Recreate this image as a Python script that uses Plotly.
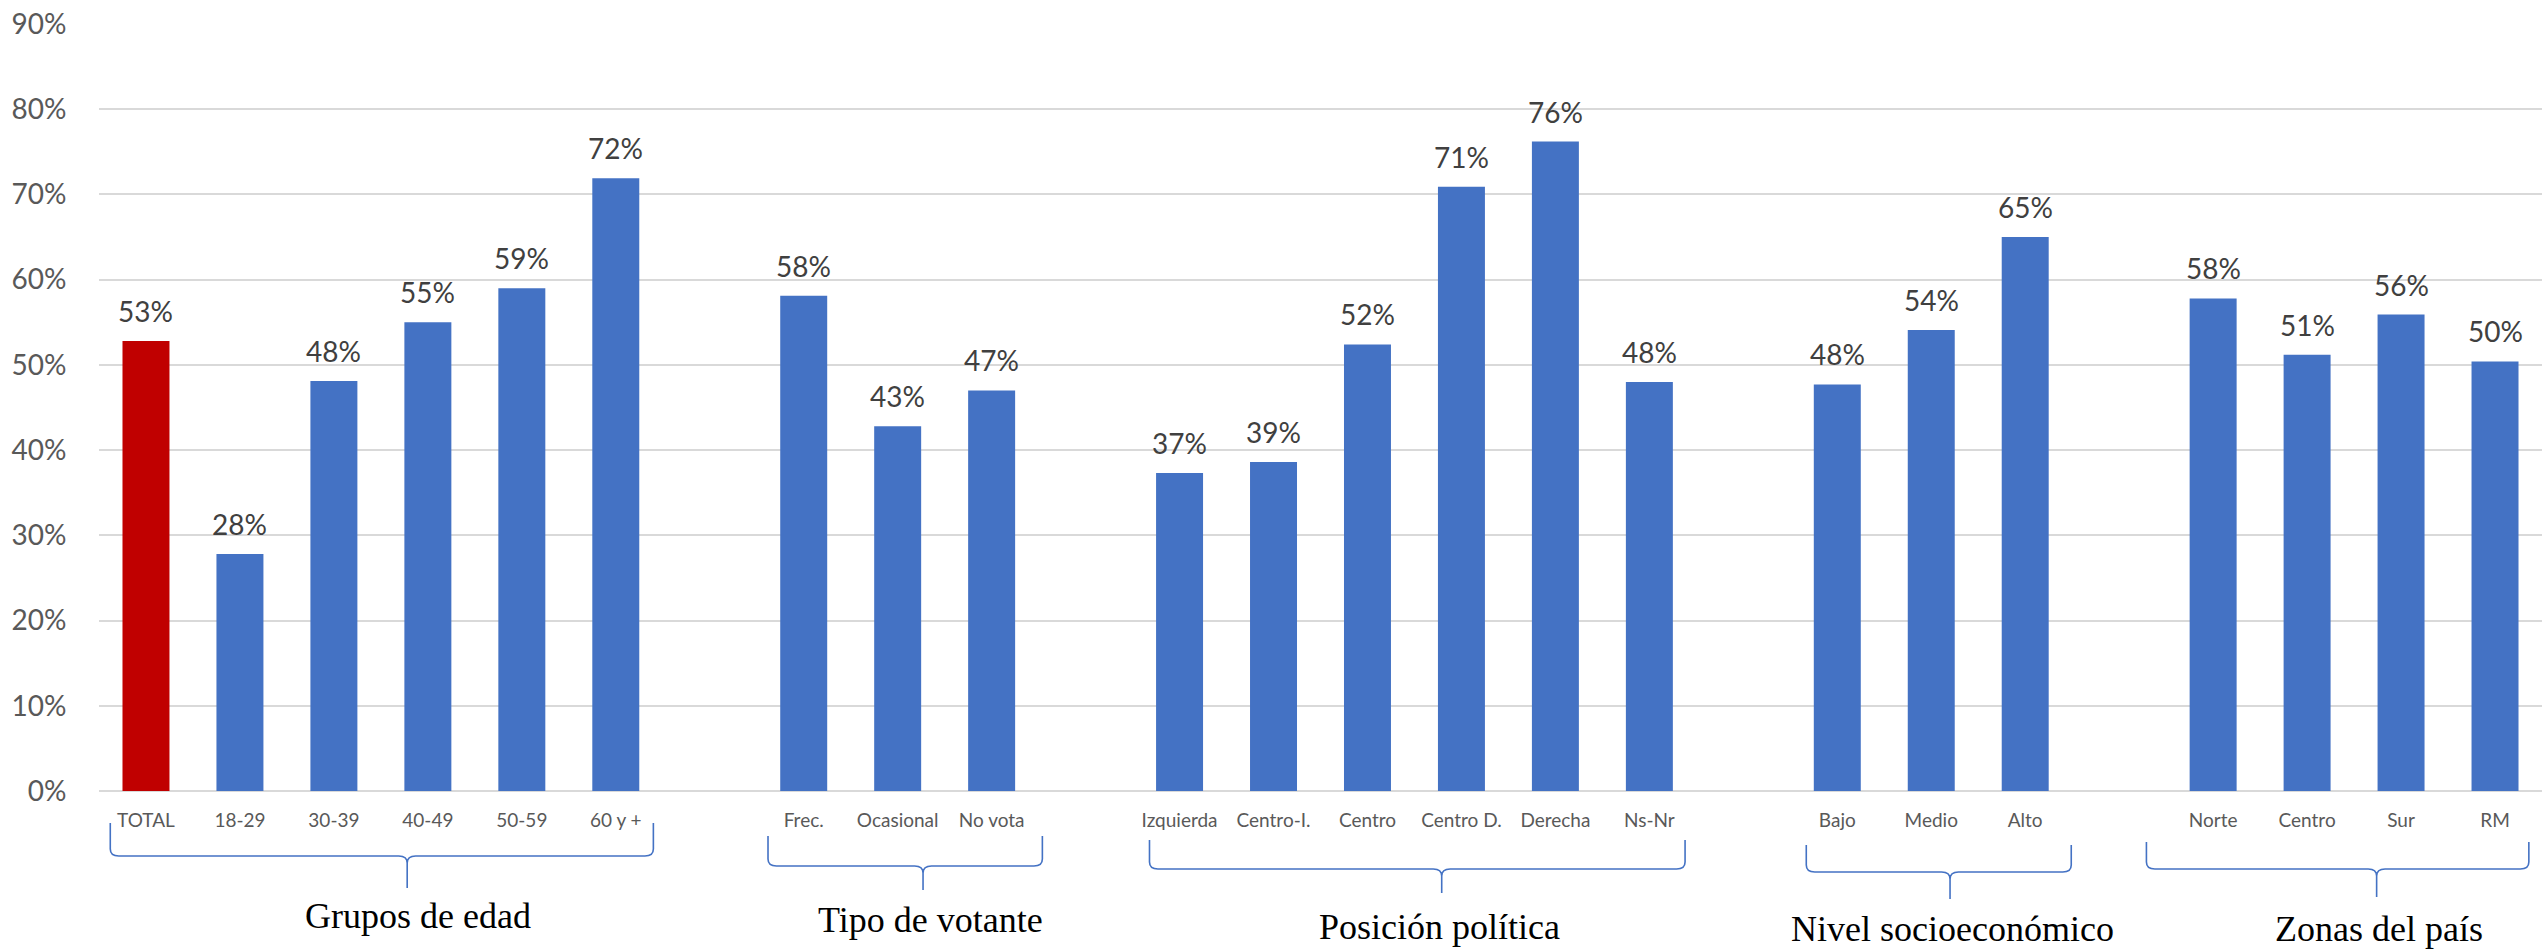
import plotly.graph_objects as go

# ---------------- data ----------------
group_names = ["Grupos de edad", "Tipo de votante", "Posición política",
               "Nivel socioeconómico", "Zonas del país"]

edad_labels = ["TOTAL", "18-29", "30-39", "40-49", "50-59", "60 y +"]
edad_values = [52.8, 27.8, 48.1, 55.0, 59.0, 71.9]

votante_labels = ["Frec.", "Ocasional", "No vota"]
votante_values = [58.1, 42.8, 47.0]

politica_labels = ["Izquierda", "Centro-I.", "Centro", "Centro D.", "Derecha", "Ns-Nr"]
politica_values = [37.3, 38.6, 52.4, 70.9, 76.2, 48.0]

nse_labels = ["Bajo", "Medio", "Alto"]
nse_values = [47.7, 54.1, 65.0]

zona_labels = ["Norte", "Centro", "Sur", "RM"]
zona_values = [57.8, 51.2, 55.9, 50.4]

y_tick_values = [0, 10, 20, 30, 40, 50, 60, 70, 80, 90]

# ---------------- layout helpers ----------------
W, H = 2542, 949
M_L, M_R, M_T, M_B = 99, 0, 24, 158
PLOT_H = H - M_T - M_B
AXIS_PX = H - M_B  # pixel row of the 0% line


def py_to_paper(py):
    return (AXIS_PX - py) / PLOT_H


BLUE = "#4472C4"
RED = "#C00000"

groups = [
    (edad_labels, edad_values),
    (votante_labels, votante_values),
    (politica_labels, politica_values),
    (nse_labels, nse_values),
    (zona_labels, zona_values),
]

xs, labels, values, colors, spans = [], [], [], [], []
pos = 0
for gi, (labs, vals) in enumerate(groups):
    start = pos
    for lab, v in zip(labs, vals):
        xs.append(pos)
        labels.append(lab)
        values.append(v)
        colors.append(RED if lab == "TOTAL" else BLUE)
        pos += 1
    spans.append((start, pos - 1))
    pos += 1  # empty slot between groups

fig = go.Figure()
fig.add_trace(go.Bar(
    x=xs, y=values, width=0.5,
    marker=dict(color=colors, line=dict(width=0)),
    hoverinfo="skip",
))

# data labels
for x, v in zip(xs, values):
    fig.add_annotation(
        x=x, y=v, xref="x", yref="y", text=f"{round(v):.0f}%",
        showarrow=False, yanchor="bottom", yshift=11,
        font=dict(family="Lato", size=28, color="#404040"),
    )

# braces (pixel rows per group: ends top, horizontal, tip bottom, label middle)
brace_rows = [
    (823, 856, 888, 916),
    (836, 866, 890, 920),
    (840, 869, 893, 927),
    (845, 872, 899, 929),
    (842, 869, 897, 929),
]
# (left offset, right offset, tip offset, label offset) in category units
brace_offsets = [(-0.38, 0.40, 0.28, 0.11), (-0.38, 0.54, 0.27, 0.08),
                 (-0.32, 0.38, 0.29, -0.02), (-0.33, 0.49, 0.20, 0.03),
                 (-0.71, 0.36, 0.24, 0.03)]
dx = 0.09
dyp = 7.0 / PLOT_H
for (s, e), (yt, yh, ytip, ylab), (o0, o1, ot, ol), name in zip(spans, brace_rows, brace_offsets, group_names):
    x0 = s + o0
    x1 = e + o1
    xt = (s + e) / 2 + ot
    pt, ph, pp = py_to_paper(yt), py_to_paper(yh), py_to_paper(ytip)
    path = (f"M {x0},{pt} L {x0},{ph + dyp} Q {x0},{ph} {x0 + dx},{ph} "
            f"L {xt - dx},{ph} Q {xt},{ph} {xt},{ph - dyp} L {xt},{pp} "
            f"M {xt},{ph - dyp} Q {xt},{ph} {xt + dx},{ph} "
            f"L {x1 - dx},{ph} Q {x1},{ph} {x1},{ph + dyp} L {x1},{pt}")
    fig.add_shape(type="path", path=path, xref="x", yref="paper",
                  line=dict(color=BLUE, width=1.6), layer="above")
    fig.add_annotation(
        x=xt + ol, y=py_to_paper(ylab), xref="x", yref="paper", text=name,
        showarrow=False, yanchor="middle", xanchor="center",
        font=dict(family="Liberation Serif", size=36, color="#000000"),
    )

fig.update_layout(
    width=W, height=H,
    margin=dict(l=M_L, r=M_R, t=M_T, b=M_B),
    paper_bgcolor="white", plot_bgcolor="white",
    showlegend=False, bargap=0.5,
    xaxis=dict(
        range=[-0.5, pos - 1 - 0.5], tickmode="array", tickvals=xs, ticktext=labels,
        showgrid=False, zeroline=False, showline=False,
        ticks="outside", ticklen=12, tickcolor="rgba(0,0,0,0)",
        tickfont=dict(family="Lato", size=19, color="#595959"),
        fixedrange=True,
    ),
    yaxis=dict(
        range=[0, 90], tickmode="array", tickvals=y_tick_values,
        ticktext=[f"{v}%" for v in y_tick_values],
        showgrid=True, gridcolor="#D9D9D9", gridwidth=2,
        zeroline=True, zerolinecolor="#D9D9D9", zerolinewidth=2,
        showline=False, ticks="outside", ticklen=26, tickcolor="rgba(0,0,0,0)",
        tickfont=dict(family="Lato", size=28, color="#595959"),
        fixedrange=True,
    ),
)

fig.write_html(
    "out.html",
    config={"displayModeBar": False},
    post_script="document.body.style.margin='0px';document.body.style.overflow='hidden';",
)
